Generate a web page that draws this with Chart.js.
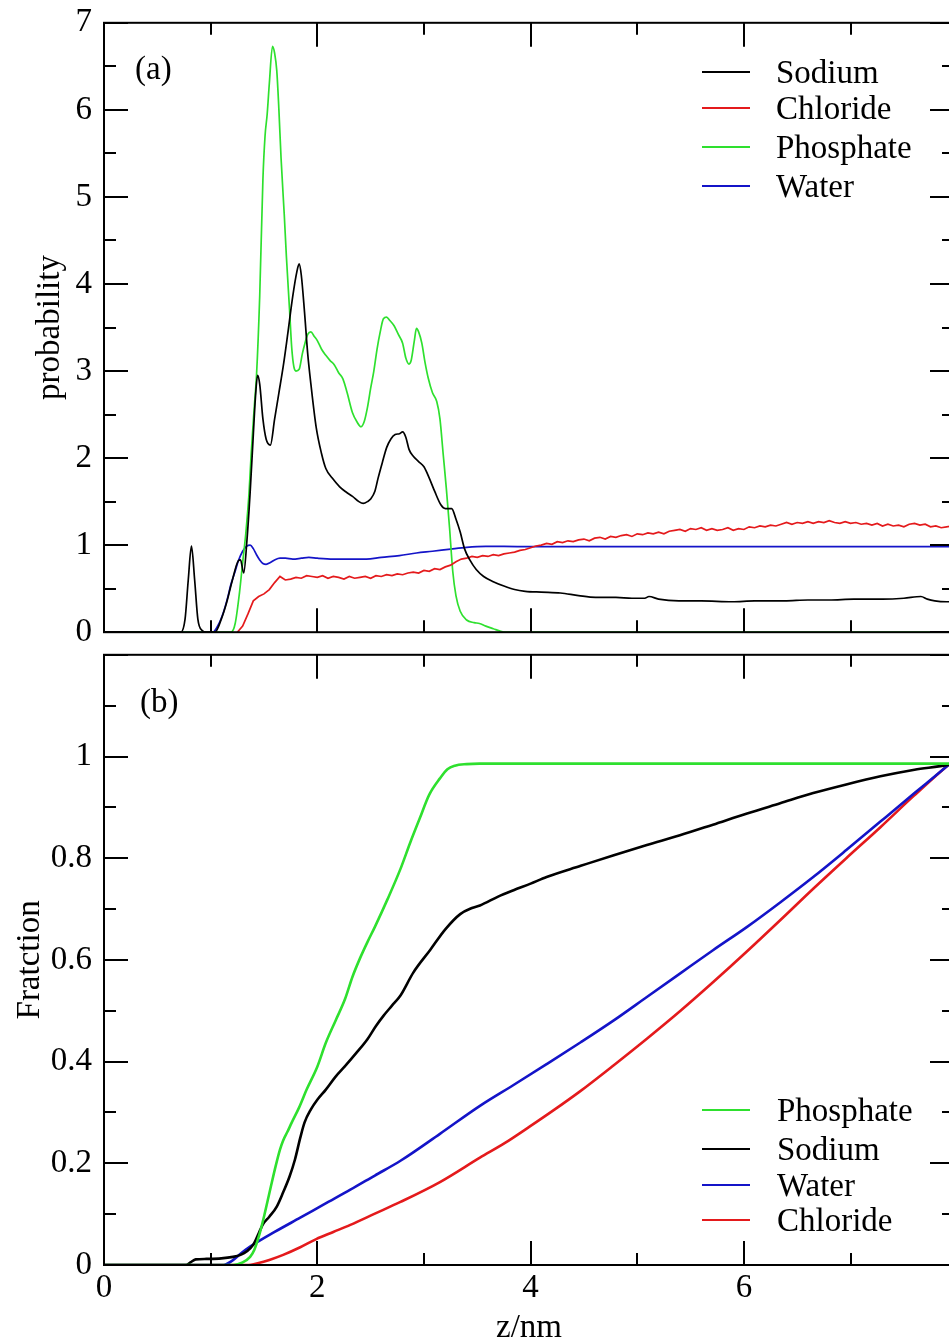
<!DOCTYPE html>
<html>
<head>
<meta charset="utf-8">
<script src="https://cdn.jsdelivr.net/npm/chart.js@4.4.1/dist/chart.umd.min.js"></script>
<style>
  html, body { margin:0; padding:0; background:#fff; overflow:hidden; width:949px; height:1341px; }
  #wrapA { position:absolute; left:0; top:-9px; width:958px; height:673px; }
  #wrapB { position:absolute; left:0; top:623px; width:958px; height:737px; }
</style>
</head>
<body>
<div id="wrapA"><canvas id="chartA"></canvas></div>
<div id="wrapB"><canvas id="chartB"></canvas></div>
<script>
/* ---------- panel (a): probability vs z ---------- */
const sodiumZ = [0,0.72,0.76,0.79,0.82,0.85,0.88,0.92,0.96,1.04,1.10,1.15,1.20,1.26,1.28,1.31,1.34,1.37,1.40,1.42,1.44,1.46,1.49,1.52,1.56,1.60,1.64,1.68,1.72,1.77,1.81,1.83,1.85,1.88,1.91,1.94,1.99,2.04,2.08,2.14,2.21,2.27,2.33,2.39,2.43,2.47,2.50,2.54,2.57,2.61,2.65,2.69,2.73,2.77,2.80,2.83,2.86,2.90,2.95,3.00,3.05,3.10,3.16,3.20,3.26,3.30,3.34,3.38,3.43,3.49,3.56,3.65,3.75,3.85,3.95,4.10,4.28,4.45,4.61,4.80,4.95,5.07,5.11,5.20,5.39,5.60,5.89,6.10,6.38,6.60,6.80,7.03,7.30,7.50,7.66,7.72,7.79,7.90,7.97];
const sodiumProb = [0,0,0.15,0.6,0.99,0.6,0.15,0.02,0,0,0.15,0.34,0.58,0.82,0.83,0.68,1.05,1.6,2.27,2.7,2.95,2.85,2.45,2.22,2.15,2.45,2.75,3.05,3.4,3.86,4.15,4.23,4.1,3.68,3.2,2.85,2.35,2.05,1.88,1.77,1.67,1.61,1.56,1.5,1.48,1.5,1.53,1.62,1.77,1.95,2.12,2.22,2.27,2.28,2.30,2.24,2.1,2.02,1.96,1.9,1.77,1.62,1.46,1.42,1.42,1.3,1.15,0.96,0.83,0.72,0.64,0.58,0.53,0.49,0.47,0.46,0.45,0.42,0.40,0.40,0.39,0.39,0.41,0.38,0.36,0.36,0.35,0.36,0.36,0.37,0.37,0.38,0.38,0.39,0.41,0.38,0.36,0.35,0.35];

const chlorideZ = [1.25,1.30,1.35,1.40,1.45,1.50,1.55,1.60,1.65,1.70,1.75,1.80,1.85,1.90,1.95,2.00,2.05,2.10,2.15,2.20,2.25,2.30,2.35,2.40,2.45,2.50,2.55,2.60,2.65,2.70,2.75,2.80,2.85,2.90,2.95,3.00,3.05,3.10,3.15,3.20,3.25,3.30,3.35,3.40,3.45,3.50,3.55,3.60,3.65,3.70,3.75,3.80,3.85,3.90,3.95,4.00,4.05,4.10,4.15,4.20,4.25,4.30,4.35,4.40,4.45,4.50,4.55,4.60,4.65,4.70,4.75,4.80,4.85,4.90,4.95,5.00,5.05,5.10,5.15,5.20,5.25,5.30,5.35,5.40,5.45,5.50,5.55,5.60,5.65,5.70,5.75,5.80,5.85,5.90,5.95,6.00,6.05,6.10,6.15,6.20,6.25,6.30,6.35,6.40,6.45,6.50,6.55,6.60,6.65,6.70,6.75,6.80,6.85,6.90,6.95,7.00,7.05,7.10,7.15,7.20,7.25,7.30,7.35,7.40,7.45,7.50,7.55,7.60,7.65,7.70,7.75,7.80,7.85,7.90,7.95];
const chlorideProb = [0,0.07,0.21,0.36,0.41,0.44,0.49,0.57,0.64,0.60,0.61,0.63,0.62,0.65,0.64,0.63,0.65,0.62,0.64,0.63,0.61,0.64,0.62,0.63,0.64,0.62,0.65,0.64,0.66,0.65,0.67,0.66,0.68,0.69,0.68,0.71,0.70,0.73,0.72,0.75,0.77,0.81,0.84,0.85,0.87,0.86,0.88,0.87,0.89,0.88,0.90,0.91,0.92,0.94,0.95,0.97,0.99,1.00,1.02,1.01,1.04,1.03,1.05,1.04,1.06,1.07,1.05,1.08,1.09,1.07,1.10,1.09,1.11,1.12,1.10,1.13,1.12,1.14,1.13,1.15,1.13,1.16,1.17,1.18,1.16,1.19,1.18,1.20,1.17,1.19,1.17,1.18,1.20,1.17,1.19,1.18,1.21,1.20,1.22,1.21,1.23,1.22,1.24,1.26,1.24,1.26,1.25,1.27,1.25,1.27,1.26,1.28,1.26,1.25,1.27,1.25,1.26,1.24,1.25,1.23,1.25,1.22,1.24,1.22,1.23,1.21,1.24,1.25,1.23,1.24,1.21,1.22,1.20,1.21,1.22];

const phosphateZ = [0,1.19,1.23,1.27,1.30,1.33,1.36,1.38,1.41,1.43,1.46,1.49,1.51,1.53,1.55,1.58,1.60,1.62,1.64,1.66,1.69,1.71,1.74,1.76,1.78,1.80,1.83,1.86,1.88,1.91,1.94,1.97,2.00,2.04,2.08,2.12,2.16,2.20,2.24,2.28,2.33,2.37,2.41,2.44,2.47,2.50,2.53,2.56,2.59,2.62,2.65,2.68,2.72,2.76,2.80,2.83,2.86,2.88,2.91,2.93,2.95,2.98,3.01,3.04,3.08,3.12,3.15,3.18,3.21,3.24,3.27,3.30,3.34,3.40,3.47,3.52,3.58,3.65,3.72,3.77,7.97];
const phosphateProb = [0,0,0.1,0.45,0.8,1.14,1.6,2.05,2.6,2.95,3.86,5.2,5.7,5.95,6.3,6.73,6.65,6.45,6.0,5.45,4.8,4.32,3.7,3.27,3.05,3.0,3.02,3.2,3.3,3.42,3.45,3.4,3.35,3.25,3.18,3.12,3.07,2.98,2.91,2.75,2.52,2.42,2.36,2.42,2.58,2.8,3.0,3.25,3.45,3.6,3.62,3.58,3.52,3.42,3.32,3.15,3.08,3.12,3.35,3.49,3.45,3.32,3.1,2.92,2.75,2.65,2.45,2.05,1.65,1.2,0.7,0.42,0.24,0.14,0.11,0.1,0.07,0.04,0.01,0,0];

const waterZ = [0,1.02,1.07,1.12,1.16,1.19,1.23,1.26,1.30,1.34,1.37,1.40,1.43,1.46,1.49,1.52,1.56,1.60,1.65,1.70,1.77,1.85,1.92,2.00,2.15,2.30,2.46,2.60,2.77,2.93,3.08,3.25,3.40,3.58,3.75,4.00,5.00,6.00,7.00,7.97];
const waterProb = [0,0,0.08,0.23,0.40,0.55,0.70,0.82,0.93,0.99,1.0,0.96,0.89,0.83,0.79,0.78,0.80,0.83,0.85,0.85,0.84,0.85,0.86,0.85,0.84,0.84,0.84,0.86,0.88,0.91,0.93,0.955,0.975,0.985,0.985,0.982,0.982,0.982,0.982,0.982];

/* ---------- panel (b): cumulative fraction vs z ---------- */
const phosphateFracZ = [0,1.21,1.30,1.37,1.41,1.46,1.50,1.56,1.61,1.65,1.68,1.72,1.76,1.83,1.90,2.00,2.08,2.17,2.26,2.33,2.40,2.47,2.54,2.66,2.78,2.87,2.96,3.05,3.15,3.22,3.29,3.40,3.52,5.00,6.50,7.97];
const phosphateFrac = [0,0,0.005,0.016,0.03,0.062,0.095,0.15,0.195,0.227,0.245,0.262,0.28,0.31,0.345,0.39,0.437,0.48,0.523,0.567,0.603,0.635,0.665,0.72,0.779,0.83,0.878,0.925,0.957,0.975,0.982,0.985,0.986,0.986,0.986,0.986];

const sodiumFracZ = [0,0.77,0.81,0.86,0.96,1.10,1.21,1.28,1.34,1.40,1.45,1.49,1.55,1.62,1.68,1.74,1.79,1.84,1.88,1.94,2.00,2.08,2.17,2.26,2.37,2.47,2.55,2.62,2.70,2.78,2.90,3.06,3.20,3.34,3.45,3.525,3.70,3.84,4.00,4.15,4.47,4.78,5.09,5.40,5.71,6.03,6.34,6.65,6.96,7.28,7.60,7.92,7.97];
const sodiumFrac = [0,0,0.005,0.011,0.012,0.013,0.016,0.02,0.027,0.04,0.062,0.08,0.095,0.115,0.143,0.174,0.207,0.25,0.28,0.306,0.325,0.345,0.37,0.391,0.418,0.444,0.47,0.49,0.51,0.53,0.575,0.62,0.66,0.69,0.702,0.707,0.725,0.737,0.75,0.763,0.785,0.806,0.826,0.845,0.866,0.888,0.908,0.928,0.945,0.961,0.974,0.984,0.987];

const waterFracZ = [0,1.12,1.20,1.28,1.37,1.60,1.84,2.07,2.31,2.54,2.78,3.15,3.525,3.84,4.15,4.47,4.78,5.09,5.40,5.71,6.03,6.34,6.65,6.96,7.28,7.60,7.92,7.97];
const waterFrac = [0,0,0.008,0.022,0.036,0.065,0.093,0.12,0.148,0.176,0.205,0.258,0.313,0.354,0.395,0.438,0.481,0.527,0.573,0.619,0.665,0.713,0.763,0.816,0.872,0.928,0.984,0.993];

const chlorideFracZ = [0,1.34,1.45,1.55,1.68,1.84,1.99,2.15,2.31,2.54,2.78,3.15,3.525,3.76,3.99,4.22,4.46,4.78,5.09,5.40,5.71,6.03,6.34,6.65,6.96,7.28,7.59,7.92,7.97];
const chlorideFrac = [0,0,0.004,0.01,0.02,0.035,0.051,0.065,0.079,0.101,0.124,0.163,0.211,0.24,0.272,0.305,0.341,0.393,0.445,0.499,0.556,0.617,0.678,0.740,0.800,0.861,0.922,0.984,0.992];

const xTickLabels = ["0","2","4","6"];
const yTickLabelsB = ["0","0.2","0.4","0.6","0.8","1"];

const BLACK = "#000000", RED = "#e41a1c", GREEN = "#2ee02e", BLUE = "#1414c8";
const FONT = "'Liberation Serif', 'Times New Roman', serif";

function pts(zs, vs){ return zs.map((z,i)=>({x:z, y:vs[i]})); }

/* frame, inward ticks, legend and panel label */
const framePlugin = {
  id: "frame",
  afterDatasetsDraw(chart, args, o){
    const {ctx, chartArea:a, scales:{x, y}} = chart;
    ctx.save();
    ctx.strokeStyle = "#000";
    ctx.lineWidth = 2;
    ctx.strokeRect(a.left, a.top, a.right - a.left, a.bottom - a.top);

    ctx.beginPath();
    for(let i=0; i*o.xMinor <= x.max + 1e-9; i++){
      const px = Math.round(x.getPixelForValue(i*o.xMinor));
      const len = (i % o.xRatio === 0) ? 24 : 12;
      ctx.moveTo(px, a.bottom); ctx.lineTo(px, a.bottom - len);
      ctx.moveTo(px, a.top); ctx.lineTo(px, a.top + len);
    }
    for(let i=0; i*o.yMinor <= y.max + 1e-9; i++){
      const py = Math.round(y.getPixelForValue(i*o.yMinor));
      const len = (i % o.yRatio === 0) ? 24 : 12;
      ctx.moveTo(a.left, py); ctx.lineTo(a.left + len, py);
      ctx.moveTo(a.right, py); ctx.lineTo(a.right - len, py);
    }
    ctx.stroke();

    ctx.fillStyle = "#000";
    ctx.font = "33px " + FONT;
    ctx.textBaseline = "alphabetic";
    ctx.textAlign = "left";
    ctx.fillText(o.panel, o.panelX, o.panelY);

    o.order.forEach((di, k)=>{
      const ds = chart.data.datasets[di];
      const ly = o.rows[k];
      ctx.strokeStyle = ds.borderColor;
      ctx.lineWidth = 2;
      ctx.beginPath();
      ctx.moveTo(o.lineX0, ly); ctx.lineTo(o.lineX1, ly);
      ctx.stroke();
      ctx.fillText(ds.label, o.textX, ly + 11);
    });
    ctx.restore();
  }
};

function baseScales(yMax, yStep, yTitle, yTitlePad, yCb, showX){
  return {
    x: {
      type: "linear", min: 0, max: 7.97,
      grid: {display:false, drawTicks:false}, border: {display:false},
      ticks: {
        display: showX, stepSize: 2, includeBounds: false, padding: 4,
        color: "#000", font: {family: FONT, size: 33},
        callback: v => xTickLabels[Math.round(v/2)] ?? null
      },
      title: {display: showX, text: "z/nm", color: "#000", font: {family: FONT, size: 33}, padding: {top:0, bottom:12}},
      afterFit: s => { s.height = showX ? 95 : 0; }
    },
    y: {
      min: 0, max: yMax,
      grid: {display:false, drawTicks:false}, border: {display:false},
      ticks: {stepSize: yStep, includeBounds: false, padding: 12, color: "#000",
              font: {family: FONT, size: 33}, callback: yCb},
      title: {display: true, text: yTitle, color: "#000", font: {family: FONT, size: 33}, padding: {top: yTitlePad, bottom: 0}},
      afterFit: s => { s.width = 104; }
    }
  };
}

new Chart(document.getElementById("chartA"), {
  type: "line",
  data: {
    datasets: [
      {label:"Sodium", data: pts(sodiumZ, sodiumProb), borderColor: BLACK, cubicInterpolationMode:"monotone"},
      {label:"Chloride", data: pts(chlorideZ, chlorideProb), borderColor: RED},
      {label:"Phosphate", data: pts(phosphateZ, phosphateProb), borderColor: GREEN, cubicInterpolationMode:"monotone"},
      {label:"Water", data: pts(waterZ, waterProb), borderColor: BLUE, cubicInterpolationMode:"monotone"}
    ]
  },
  options: {
    responsive: true, maintainAspectRatio: false, animation: false, devicePixelRatio: 1,
    parsing: false,
    elements: {point: {radius: 0}, line: {borderWidth: 1.7}},
    layout: {padding: {top: 23, right: 4, bottom: 23, left: 0}},
    scales: baseScales(7, 1, "probability", 31, v => String(v), false),
    plugins: {
      legend: {display:false}, tooltip: {enabled:false},
      frame: {xMinor:1, xRatio:2, yMinor:0.5, yRatio:2, panel:"(a)", panelX:135, panelY:88,
              order:[0,1,2,3], rows:[81,117,156,195], lineX0:702, lineX1:750, textX:776}
    }
  },
  plugins: [framePlugin]
});

new Chart(document.getElementById("chartB"), {
  type: "line",
  data: {
    datasets: [
      {label:"Phosphate", data: pts(phosphateFracZ, phosphateFrac), borderColor: GREEN},
      {label:"Sodium", data: pts(sodiumFracZ, sodiumFrac), borderColor: BLACK},
      {label:"Water", data: pts(waterFracZ, waterFrac), borderColor: BLUE},
      {label:"Chloride", data: pts(chlorideFracZ, chlorideFrac), borderColor: RED}
    ]
  },
  options: {
    responsive: true, maintainAspectRatio: false, animation: false, devicePixelRatio: 1,
    parsing: false,
    elements: {point: {radius: 0}, line: {borderWidth: 2.6, cubicInterpolationMode: "monotone"}},
    layout: {padding: {top: 0, right: 4, bottom: 0, left: 0}},
    scales: baseScales(1.2, 0.2, "Fratction", 11, v => yTickLabelsB[Math.round(v/0.2)] ?? null, true),
    plugins: {
      legend: {display:false}, tooltip: {enabled:false},
      frame: {xMinor:1, xRatio:2, yMinor:0.1, yRatio:2, panel:"(b)", panelX:140, panelY:89,
              order:[0,1,2,3], rows:[487,526,562,597], lineX0:702, lineX1:750, textX:777}
    }
  },
  plugins: [framePlugin]
});
</script>
</body>
</html>
